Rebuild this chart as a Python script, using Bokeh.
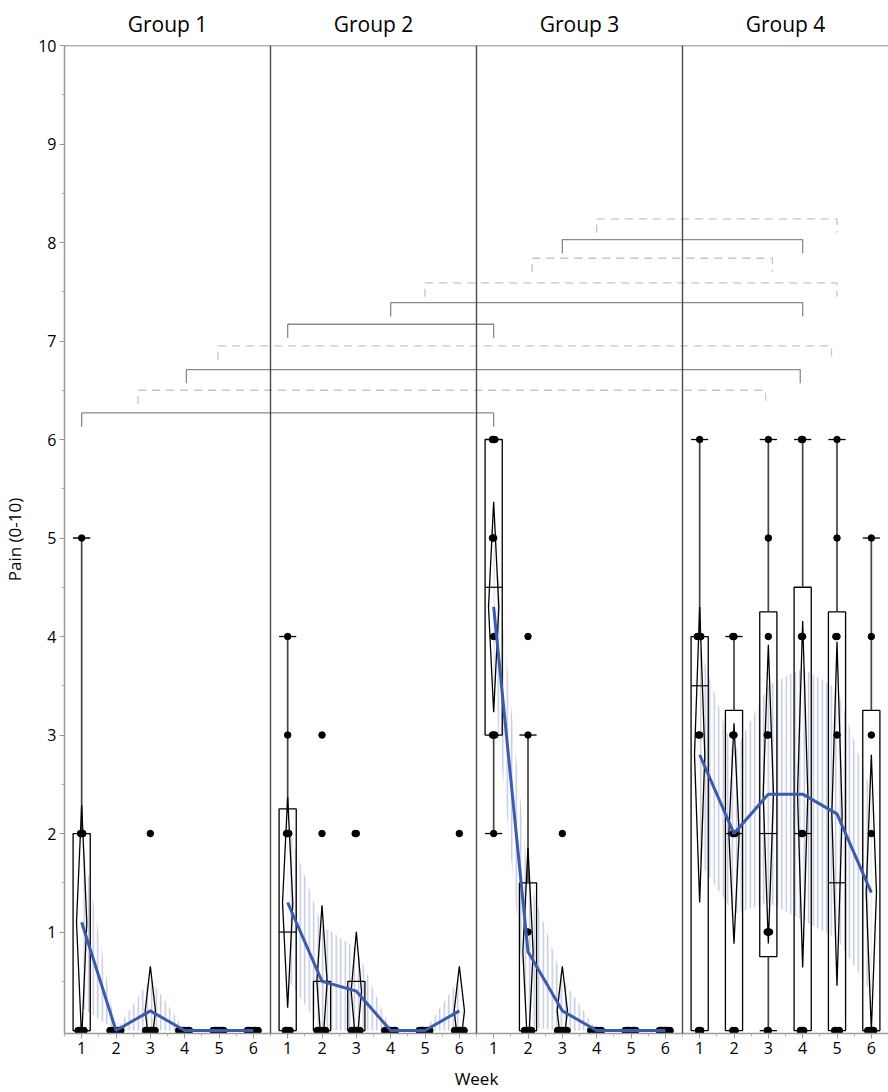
import numpy as np
from bokeh.plotting import figure
from bokeh.models import Range1d, FixedTicker, LinearAxis, Span
from bokeh.embed import file_html
from bokeh.resources import INLINE

# ---------------- data ----------------
groups = ["Group 1", "Group 2", "Group 3", "Group 4"]
weeks = [1, 2, 3, 4, 5, 6]

# Pain scores (0-10) of the 10 subjects, per week (1..6)
group1 = [
    [5, 2, 2, 2, 0, 0, 0, 0, 0, 0],
    [0, 0, 0, 0, 0, 0, 0, 0, 0, 0],
    [2, 0, 0, 0, 0, 0, 0, 0, 0, 0],
    [0, 0, 0, 0, 0, 0, 0, 0, 0, 0],
    [0, 0, 0, 0, 0, 0, 0, 0, 0, 0],
    [0, 0, 0, 0, 0, 0, 0, 0, 0, 0],
]
group2 = [
    [4, 3, 2, 2, 2, 0, 0, 0, 0, 0],
    [3, 2, 0, 0, 0, 0, 0, 0, 0, 0],
    [2, 2, 0, 0, 0, 0, 0, 0, 0, 0],
    [0, 0, 0, 0, 0, 0, 0, 0, 0, 0],
    [0, 0, 0, 0, 0, 0, 0, 0, 0, 0],
    [2, 0, 0, 0, 0, 0, 0, 0, 0, 0],
]
group3 = [
    [6, 6, 6, 5, 5, 4, 3, 3, 3, 2],
    [4, 3, 1, 0, 0, 0, 0, 0, 0, 0],
    [2, 0, 0, 0, 0, 0, 0, 0, 0, 0],
    [0, 0, 0, 0, 0, 0, 0, 0, 0, 0],
    [0, 0, 0, 0, 0, 0, 0, 0, 0, 0],
    [0, 0, 0, 0, 0, 0, 0, 0, 0, 0],
]
group4 = [
    [6, 4, 4, 4, 4, 3, 3, 0, 0, 0],
    [4, 4, 3, 3, 2, 2, 2, 0, 0, 0],
    [6, 5, 4, 3, 3, 1, 1, 1, 0, 0],
    [6, 6, 4, 4, 2, 2, 0, 0, 0, 0],
    [6, 5, 4, 4, 3, 0, 0, 0, 0, 0],
    [5, 4, 3, 2, 0, 0, 0, 0, 0, 0],
]
all_groups = [group1, group2, group3, group4]

# significance brackets (positions on the combined week axis, 6 weeks per group)
bracket_left = [1.0, 2.64, 4.05, 4.97, 7.0, 10.0, 11.0, 14.12, 15.0, 16.0]
bracket_right = [13.0, 20.92, 21.93, 22.84, 13.0, 22.0, 23.0, 21.12, 22.0, 23.0]
bracket_level = [6.27, 6.50, 6.71, 6.95, 7.17, 7.39, 7.59, 7.84, 8.03, 8.24]
bracket_solid = [True, False, True, False, True, True, False, False, True, False]

y_ticks = [1, 2, 3, 4, 5, 6, 7, 8, 9, 10]

# ---------------- styles ----------------
FONT = "Open Sans"
BLUE = "#3b5cad"
HATCH = "#b4bcd6"
BOX_HW = 0.25
DIA_HW = 0.15
JIT = 0.035
T975_DF9 = 2.262
Z90 = 1.645

p = figure(width=888, height=1092, x_range=Range1d(0.5, 24.5), y_range=Range1d(-0.03, 10),
           output_backend="svg", toolbar_location=None,
           min_border_left=62, min_border_right=0, min_border_top=45, min_border_bottom=58)
p.outline_line_color = None
p.xgrid.visible = False
p.ygrid.visible = False
p.background_fill_color = "white"

# --- statistics and glyph sources
box_l, box_r, box_b, box_t = [], [], [], []
med_x0, med_x1, med_y = [], [], []
wh_x, wh_y0, wh_y1 = [], [], []
cap_x0, cap_x1, cap_y = [], [], []
dia_xs, dia_ys = [], []
pt_x, pt_y = [], []
offs_seq = [0, -1, 1, -2, 2, -3, 3, -4, 4, -5, 5]
mean_lines = []

for gi, g in enumerate(all_groups):
    xs_pos, means, lo, hi = [], [], [], []
    for wi, vals in enumerate(g):
        x = gi * 6 + weeks[wi]
        v = np.array(vals, dtype=float)
        n = len(v)
        q1 = np.percentile(v, 25, method="weibull")
        med = np.percentile(v, 50, method="weibull")
        q3 = np.percentile(v, 75, method="weibull")
        iqr = q3 - q1
        upper = v[v <= q3 + 1.5 * iqr].max()
        lower = v[v >= q1 - 1.5 * iqr].min()
        m = v.mean()
        sd = v.std(ddof=1)
        se = sd / np.sqrt(n)
        if q3 > q1:
            box_l.append(x - BOX_HW); box_r.append(x + BOX_HW)
            box_b.append(q1); box_t.append(q3)
            med_x0.append(x - BOX_HW); med_x1.append(x + BOX_HW); med_y.append(med)
        if upper > q3:
            wh_x.append(x); wh_y0.append(q3); wh_y1.append(upper)
            cap_x0.append(x - BOX_HW); cap_x1.append(x + BOX_HW); cap_y.append(upper)
        if lower < q1:
            wh_x.append(x); wh_y0.append(q1); wh_y1.append(lower)
            cap_x0.append(x - BOX_HW); cap_x1.append(x + BOX_HW); cap_y.append(lower)
        if sd > 0:
            ci = T975_DF9 * se
            dia_xs.append([x, x + DIA_HW, x, x - DIA_HW])
            dia_ys.append([m + ci, m, m - ci, m])
        counts = {}
        for val in vals:
            k = counts.get(val, 0)
            counts[val] = k + 1
            pt_x.append(x + offs_seq[k] * JIT)
            pt_y.append(val)
        xs_pos.append(x)
        means.append(m)
        lo.append(max(m - Z90 * se, 0.0))
        hi.append(m + Z90 * se)
    p.varea(x=xs_pos, y1=lo, y2=hi, fill_alpha=0, hatch_pattern="|", hatch_color=HATCH,
            hatch_scale=4.5, hatch_weight=1.4, hatch_alpha=0.85)
    mean_lines.append((xs_pos, means))

p.quad(left=box_l, right=box_r, bottom=box_b, top=box_t, fill_color=None,
       line_color="black", line_width=1.3)
p.segment(x0=med_x0, x1=med_x1, y0=med_y, y1=med_y, line_color="black", line_width=1.2)
p.segment(x0=wh_x, x1=wh_x, y0=wh_y0, y1=wh_y1, line_color="#444444", line_width=1.7)
p.segment(x0=cap_x0, x1=cap_x1, y0=cap_y, y1=cap_y, line_color="black", line_width=1.3)
p.patches(xs=dia_xs, ys=dia_ys, fill_color=None, line_color="black", line_width=1.3)
p.scatter(x=pt_x, y=pt_y, size=6.5, color="black")

for xs_pos, means in mean_lines:
    p.line(x=xs_pos, y=means, line_color=BLUE, line_width=3)

# brackets
DROP = 0.14
for solid in (True, False):
    bx, by = [], []
    for l, r, lev, s in zip(bracket_left, bracket_right, bracket_level, bracket_solid):
        if s == solid:
            bx.append([l, l, r, r])
            by.append([lev - DROP, lev, lev, lev - DROP])
    if solid:
        p.multi_line(xs=bx, ys=by, line_color="#8a8a8a", line_width=1.3)
    else:
        p.multi_line(xs=bx, ys=by, line_color="#c6c6c6", line_width=1.3, line_dash="8 6")

# panel dividers and top frame line
for k in range(1, len(groups)):
    p.add_layout(Span(location=k * 6 + 0.5, dimension="height", line_color="#4a4a4a", line_width=1.4))
p.add_layout(Span(location=10, dimension="width", line_color="#666666", line_width=1.5))

# axes
xa = p.below[0]
xa.ticker = FixedTicker(ticks=[gi * 6 + w for gi in range(len(groups)) for w in weeks],
                        minor_ticks=[k + 0.5 for k in range(0, 24)])
xa.major_label_overrides = {gi * 6 + w: str(w) for gi in range(len(groups)) for w in weeks}
xa.axis_label = "Week"
ya = p.left[0]
ya.ticker = FixedTicker(ticks=y_ticks, minor_ticks=[t - 0.5 for t in y_ticks])
ya.axis_label = "Pain (0-10)"
for ax in (xa, ya):
    ax.axis_line_color = "#9a9a9a"
    ax.axis_line_width = 1.5
    ax.major_tick_line_color = "#9a9a9a"
    ax.minor_tick_line_color = "#b0b0b0"
    ax.major_tick_in = 0
    ax.major_tick_out = 5
    ax.minor_tick_in = 0
    ax.minor_tick_out = 3
    ax.major_label_text_font = FONT
    ax.major_label_text_font_size = "16px"
    ax.major_label_text_color = "black"
    ax.axis_label_text_font = FONT
    ax.axis_label_text_font_size = "17px"
    ax.axis_label_text_font_style = "normal"
    ax.axis_label_text_color = "black"
    ax.major_label_standoff = 3
xa.axis_label_standoff = 10
ya.axis_label_standoff = 9

top = LinearAxis(ticker=FixedTicker(ticks=[gi * 6 + 3.5 for gi in range(len(groups))], minor_ticks=[]),
                 major_label_overrides={gi * 6 + 3.5: groups[gi] for gi in range(len(groups))})
top.axis_line_color = None
top.major_tick_line_color = None
top.minor_tick_line_color = None
top.major_tick_out = 0
top.major_tick_in = 0
top.major_label_text_font = FONT
top.major_label_text_font_size = "21px"
top.major_label_text_color = "black"
top.major_label_standoff = 8
p.add_layout(top, "above")

open("out.html", "w").write(file_html(p, INLINE))
